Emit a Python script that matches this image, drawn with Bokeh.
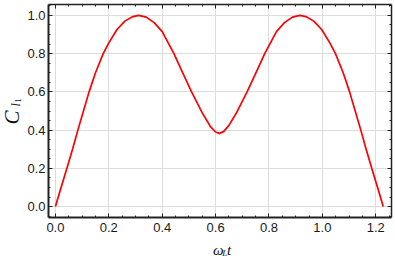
import math
from bokeh.plotting import figure
from bokeh.layouts import row, column
from bokeh.models import (LinearAxis, Range1d, Label, SingleIntervalTicker,
                          NumeralTickFormatter, CustomLabelingPolicy)
from bokeh.embed import file_html
from bokeh.resources import INLINE

# values
t_vals = [0.000, 0.020, 0.043, 0.064, 0.084, 0.105, 0.126, 0.150, 0.179, 0.200,
          0.230, 0.260, 0.290, 0.312, 0.340, 0.370, 0.400, 0.444, 0.470, 0.510,
          0.550, 0.580, 0.600, 0.614, 0.630, 0.650, 0.680, 0.718, 0.758, 0.784,
          0.828, 0.858, 0.888, 0.916, 0.938, 0.968, 0.998, 1.028, 1.049, 1.078,
          1.102, 1.123, 1.144, 1.164, 1.185, 1.208, 1.228]
c_vals = [0.000, 0.095, 0.200, 0.300, 0.400, 0.500, 0.600, 0.700, 0.800, 0.856,
          0.925, 0.970, 0.994, 1.000, 0.991, 0.962, 0.915, 0.800, 0.720, 0.600,
          0.490, 0.420, 0.390, 0.383, 0.392, 0.425, 0.495, 0.600, 0.720, 0.800,
          0.915, 0.962, 0.991, 1.000, 0.994, 0.970, 0.925, 0.856, 0.800, 0.700,
          0.600, 0.500, 0.400, 0.300, 0.200, 0.095, 0.000]

x_tick_step = 0.2
y_tick_step = 0.2

TOTAL_W, TOTAL_H = 395, 258
LEFT_W = 24          # strip holding the y-axis title
BOTTOM_H = 19        # strip holding the x-axis title
MAIN_W = TOTAL_W - LEFT_W
MAIN_H = TOTAL_H - BOTTOM_H

p = figure(width=MAIN_W, height=MAIN_H, output_backend="svg", toolbar_location=None,
           x_range=Range1d(-0.026, 1.259), y_range=Range1d(-0.057, 1.057),
           min_border_left=21, min_border_right=3, min_border_top=3, min_border_bottom=22)
p.outline_line_color = None
p.background_fill_color = "white"
p.border_fill_color = "white"

xt = SingleIntervalTicker(interval=x_tick_step, num_minor_ticks=4)
yt = SingleIntervalTicker(interval=y_tick_step, num_minor_ticks=4)

hide_all = CustomLabelingPolicy(code="""
    for (const i of indices) { indices.unset(i) }
    return indices
""")

def style_axis(ax, ticker, width, show_labels, standoff=5):
    ax.ticker = ticker
    ax.axis_line_color = "#222222"
    ax.axis_line_width = width
    ax.major_tick_in = 4
    ax.major_tick_out = 0
    ax.minor_tick_in = 2
    ax.minor_tick_out = 0
    ax.major_tick_line_color = "#222222"
    ax.minor_tick_line_color = "#222222"
    ax.major_tick_line_width = 1
    ax.minor_tick_line_width = 1
    if show_labels:
        ax.formatter = NumeralTickFormatter(format="0.0")
        ax.major_label_text_font = "Liberation Sans"
        ax.major_label_text_font_size = "13px"
        ax.major_label_text_color = "#1a1a1a"
        ax.major_label_standoff = standoff
    else:
        ax.major_label_policy = hide_all
        ax.major_label_text_font_size = "1px"
        ax.major_label_standoff = 0

style_axis(p.xaxis[0], xt, 2, True, 5)
style_axis(p.yaxis[0], yt, 2, True, 3)

top = LinearAxis()
style_axis(top, xt, 1.5, False)
p.add_layout(top, "above")
right = LinearAxis()
style_axis(right, yt, 1.5, False)
p.add_layout(right, "right")

p.xgrid.ticker = xt
p.ygrid.ticker = yt
p.xgrid.grid_line_color = "#dddddd"
p.ygrid.grid_line_color = "#dddddd"
p.xgrid.grid_line_width = 1
p.ygrid.grid_line_width = 1

p.line(t_vals, c_vals, line_color="#ff0000", line_width=1.7)

serif = "Liberation Serif"
ink = "#111111"

def strip(w, h):
    f = figure(width=w, height=h, output_backend="svg", toolbar_location=None,
               x_range=Range1d(0, w), y_range=Range1d(0, h),
               x_axis_location=None, y_axis_location=None, min_border=0)
    f.grid.visible = False
    f.outline_line_color = None
    f.background_fill_color = "white"
    f.border_fill_color = "white"
    return f

# bottom strip: x-axis title  omega_L t   (pixel coordinates inside the strip)
pb = strip(MAIN_W, BOTTOM_H)
pb.add_layout(Label(x=178, y=9, text="ω", text_font=serif, text_font_style="italic",
                    text_font_size="15px", text_color=ink, text_baseline="alphabetic"))
pb.add_layout(Label(x=188, y=6, text="L", text_font=serif, text_font_style="italic",
                    text_font_size="9px", text_color=ink, text_baseline="alphabetic"))
pb.add_layout(Label(x=193, y=9, text="t", text_font=serif, text_font_style="italic",
                    text_font_size="15px", text_color=ink, text_baseline="alphabetic"))

# left strip: y-axis title  C_{l_1}  (reads upwards)
pl = strip(LEFT_W, TOTAL_H)
ang = math.pi / 2
pl.add_layout(Label(x=11.8, y=134, text="C", text_font=serif, text_font_style="italic",
                    text_font_size="21px", text_color=ink, text_baseline="middle", angle=ang))
pl.add_layout(Label(x=15, y=152, text="l", text_font=serif, text_font_style="italic",
                    text_font_size="12px", text_color=ink, text_baseline="middle", angle=ang))
pl.add_layout(Label(x=17.5, y=156, text="1", text_font=serif,
                    text_font_size="8px", text_color=ink, text_baseline="middle", angle=ang))

layout = row(pl, column(p, pb, spacing=0), spacing=0)

open("out.html", "w").write(file_html(layout, INLINE))
